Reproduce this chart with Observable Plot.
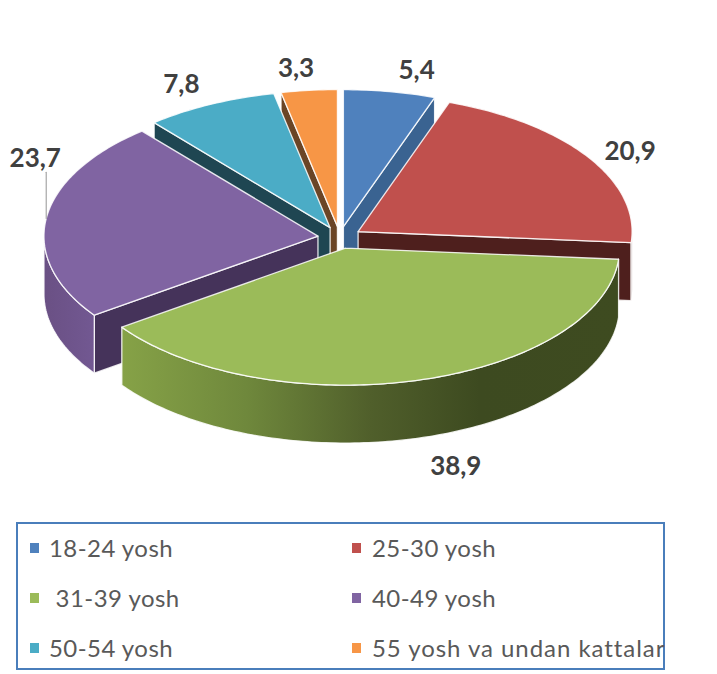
<!DOCTYPE html>
<html><head><meta charset="utf-8">
<script src="https://cdn.jsdelivr.net/npm/d3@7"></script>
<script src="https://cdn.jsdelivr.net/npm/@observablehq/plot@0.6"></script>
<style>
html,body{margin:0;padding:0;background:#fff;width:717px;height:674px;overflow:hidden}
#chart svg{display:block}
#legend{box-sizing:border-box;position:absolute;left:16px;top:522px;width:649px;height:148px;border:2px solid #4a7ebb;font-family:Lato,sans-serif;font-size:24px;color:#595959}
#legend .sw{position:absolute;width:9px;height:10px}
#legend .lb{position:absolute;line-height:30px;white-space:pre;letter-spacing:0.45px}
#legend .lb.long{letter-spacing:0.95px}
</style></head><body>
<div id="chart"></div><div id="legend"></div>
<script>
// ---- data ----
const categories = ["18-24 yosh","25-30 yosh"," 31-39 yosh","40-49 yosh","50-54 yosh","55 yosh va undan kattalar"];
const values = [5.4,20.9,38.9,23.7,7.8,3.3];
const valueLabels = ["5,4","20,9","38,9","23,7","7,8","3,3"];
// ---- styling ----
const topColors = ["#4f81bd","#c0504d","#9bbb59","#8064a2","#4bacc6","#f79646"];
const sideColors = ["#3a6391","#4e1f1d","#3d4a20","#45335a","#1f4652","#6b4526"];
const rimFills = ["#3a6391","#4e1f1d","url(#rimGreen)","url(#rimPurple)","#1f4652","#6b4526"];
const labelDx = [27,42,38,-11,-29,-13];
const labelDy = [-21,-5,86,-60,-20,-22];
const drawOrder = [0,5,4,1,3,2];
// ---- projection: pie in units of radius; x radius 274px, y radius 137px ----
const W=717,H=510,cx=339.2,cy=237,rx=274,ry=137;
const explode=0.08, depth=58/ry;
const total=d3.sum(values);
let cum=0;
const slices=values.map((v,i)=>{
  const a0=cum/total*2*Math.PI; cum+=v; const a1=cum/total*2*Math.PI; const m=(a0+a1)/2;
  return {i,a0,a1,m,ox:explode*Math.sin(m),oy:-explode*Math.cos(m)};
});
const pt=(s,a,d=0)=>({x:s.ox+Math.sin(a),y:s.oy-Math.cos(a)+d});
const apex=(s,d=0)=>({x:s.ox,y:s.oy+d});
function arc(s,a0,a1,d=0){
  const n=Math.max(2,Math.ceil((a1-a0)/(Math.PI/180)));
  return d3.range(n+1).map(k=>pt(s,a0+(a1-a0)*k/n,d));
}
const closed=p=>[...p,p[0]];
const poly=(p,fill)=>Plot.line(closed(p),{x:"x",y:"y",fill,stroke:"#fff",strokeWidth:1.3,strokeOpacity:0.85,strokeLinejoin:"round"});
const marks=[];
marks.push(()=>{
  const defs=d3.create("svg:defs");
  const grad=(id,stops)=>{const g=defs.append("linearGradient").attr("id",id).attr("x1",0).attr("x2",1).attr("y1",0).attr("y2",0);
    stops.forEach(([o,c])=>g.append("stop").attr("offset",o).attr("stop-color",c));};
  grad("rimGreen",[[0,"#86a247"],[0.25,"#6f883c"],[0.5,"#505f2b"],[0.72,"#3d4a20"],[1,"#3e4b20"]]);
  grad("rimPurple",[[0,"#6a5084"],[1,"#725892"]]);
  return defs.node();
});
for(const idx of drawOrder){
  const s=slices[idx];
  if(Math.sin(s.a0)<-1e-6) marks.push(poly([apex(s),pt(s,s.a0),pt(s,s.a0,depth),apex(s,depth)],sideColors[idx]));
  if(Math.sin(s.a1)>1e-6) marks.push(poly([apex(s),pt(s,s.a1),pt(s,s.a1,depth),apex(s,depth)],sideColors[idx]));
  const r0=Math.max(s.a0,Math.PI/2), r1=Math.min(s.a1,3*Math.PI/2);
  if(r1>r0) marks.push(poly([...arc(s,r0,r1),...arc(s,r0,r1,depth).reverse()],rimFills[idx]));
  marks.push(poly([apex(s),...arc(s,s.a0,s.a1)],topColors[idx]));
}
// leader line of the 23,7 label
const pp=slices[3], mid=pt({ox:pp.ox,oy:pp.oy},pp.m);
marks.push(Plot.line([mid,{x:mid.x,y:mid.y+labelDy[3]*0.77/ry}],{x:"x",y:"y",stroke:"#a6a6a6",strokeWidth:1.2}));
slices.forEach((s,i)=>{
  marks.push(Plot.text([pt(s,s.m)],{x:"x",y:"y",text:()=>valueLabels[i],dx:labelDx[i],dy:labelDy[i],
    fontFamily:"Lato, sans-serif",fontWeight:700,fontSize:26,fill:"#404040",textAnchor:"middle",lineAnchor:"middle"}));
});
const plot=Plot.plot({width:W,height:H,margin:0,
  x:{domain:[-cx/rx,(W-cx)/rx],range:[0,W],axis:null},
  y:{domain:[-cy/ry,(H-cy)/ry],range:[0,H],axis:null},
  marks});
document.getElementById("chart").append(plot);
// ---- legend below the SVG ----
const legend=d3.select("#legend");
const colX=[12,334], rowY=[19,69,119];
categories.forEach((c,i)=>{
  const col=i%2,row=Math.floor(i/2);
  legend.append("div").attr("class","sw").style("left",colX[col]+"px").style("top",rowY[row]+"px").style("background",topColors[i]);
  legend.append("div").attr("class",c.length>15?"lb long":"lb").style("left",(colX[col]+19+col)+"px").style("top",(rowY[row]-10)+"px").text(c);
});
</script></body></html>
